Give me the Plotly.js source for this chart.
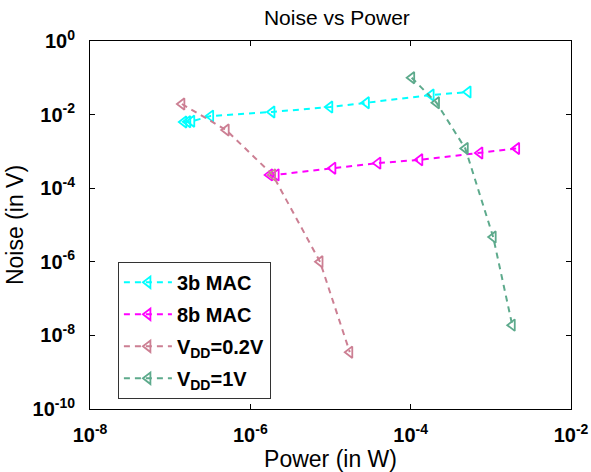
<!DOCTYPE html>
<html>
<head>
<meta charset="utf-8">
<script src="https://cdn.plot.ly/plotly-3.0.1.min.js"></script>
<style>
  html, body { margin: 0; padding: 0; background: #fff; }
  #chart { width: 591px; height: 472px; }
</style>
</head>
<body>
<div id="chart"></div>
<script>
// Power (W) and noise (V) for each design point
const mac3Power = [1.48e-7, 1.66e-7, 1.86e-7, 3.2e-7, 1.86e-6, 9.8e-6, 2.8e-5, 1.8e-4, 5.2e-4];
const mac3Noise = [6.3e-3, 6.4e-3, 6.6e-3, 9.1e-3, 0.0118, 0.016, 0.021, 0.034, 0.041];

const mac8Power = [1.74e-6, 2.1e-6, 1.07e-5, 3.9e-5, 1.3e-4, 7.3e-4, 2.1e-3];
const mac8Noise = [2.3e-4, 2.3e-4, 3.5e-4, 4.8e-4, 5.9e-4, 9.1e-4, 1.2e-3];

const vdd02Power = [1.4e-7, 5.0e-7, 1.9e-6, 7.4e-6, 1.74e-5];
const vdd02Noise = [0.0194, 3.8e-3, 2.3e-4, 1.0e-6, 3.5e-9];

const vdd1Power = [1.03e-4, 2.1e-4, 4.8e-4, 1.07e-3, 1.85e-3];
const vdd1Noise = [0.1, 0.021, 1.2e-3, 4.7e-6, 1.9e-8];

const seriesNames = ['3b MAC', '8b MAC', 'V<sub>DD</sub>=0.2V', 'V<sub>DD</sub>=1V'];
const seriesColors = ['#00FFFF', '#FF00FF', '#CC7F93', '#5DAA8C'];

const tickVals = [1e-10, 1e-8, 1e-6, 1e-4, 1e-2, 1e0];
const tickText = ['10<sup>-10</sup>', '10<sup>-8</sup>', '10<sup>-6</sup>', '10<sup>-4</sup>', '10<sup>-2</sup>', '10<sup>0</sup>'];

const FONT = 'Arial, Liberation Sans, sans-serif';

function series(x, y, i) {
  return {
    x: x, y: y, name: seriesNames[i], legendgroup: 'g' + i,
    type: 'scatter', mode: 'lines+markers',
    line: { color: seriesColors[i], width: 2, dash: '6px,5px' },
    marker: { symbol: 'triangle-left-open', size: 10, color: seriesColors[i], line: { width: 1.8 } }
  };
}

const data = [
  series(mac3Power, mac3Noise, 0),
  series(mac8Power, mac8Noise, 1),
  series(vdd02Power, vdd02Noise, 2),
  series(vdd1Power, vdd1Noise, 3)
];

const axisCommon = {
  type: 'log',
  showgrid: false, zeroline: false,
  showline: true, mirror: 'ticks', linecolor: '#000', linewidth: 1,
  ticks: 'inside', ticklen: 5, tickcolor: '#000',
  tickvals: tickVals, ticktext: tickText,
  tickfont: { family: FONT, size: 20, color: '#000', weight: 'bold' }
};

const layout = {
  width: 591, height: 472,
  margin: { l: 90, r: 20, t: 41, b: 63 },
  paper_bgcolor: '#fff', plot_bgcolor: '#fff',
  showlegend: true,
  title: {
    text: 'Noise vs Power', x: 0.57, xanchor: 'center', y: 0.963, yanchor: 'middle',
    font: { family: FONT, size: 21, color: '#000' }
  },
  xaxis: Object.assign({}, axisCommon, {
    range: [-8, -2],
    ticklabelstandoff: 8,
    title: { text: 'Power (in W)', standoff: 2,
      font: { family: FONT, size: 23, color: '#000' } }
  }),
  yaxis: Object.assign({}, axisCommon, {
    range: [-10, 0],
    ticklabelstandoff: 10,
    title: { text: 'Noise (in V)', standoff: 2,
      font: { family: FONT, size: 23, color: '#000' } }
  }),
  legend: {
    x: 0.058, y: 0.40, xanchor: 'left', yanchor: 'top',
    bgcolor: '#fff', bordercolor: '#333', borderwidth: 1,
    itemwidth: 48, tracegroupgap: 3,
    font: { family: FONT, size: 20, color: '#000', weight: 'bold' }
  }
};

Plotly.newPlot('chart', data, layout, { displayModeBar: false, staticPlot: true });
</script>
</body>
</html>
